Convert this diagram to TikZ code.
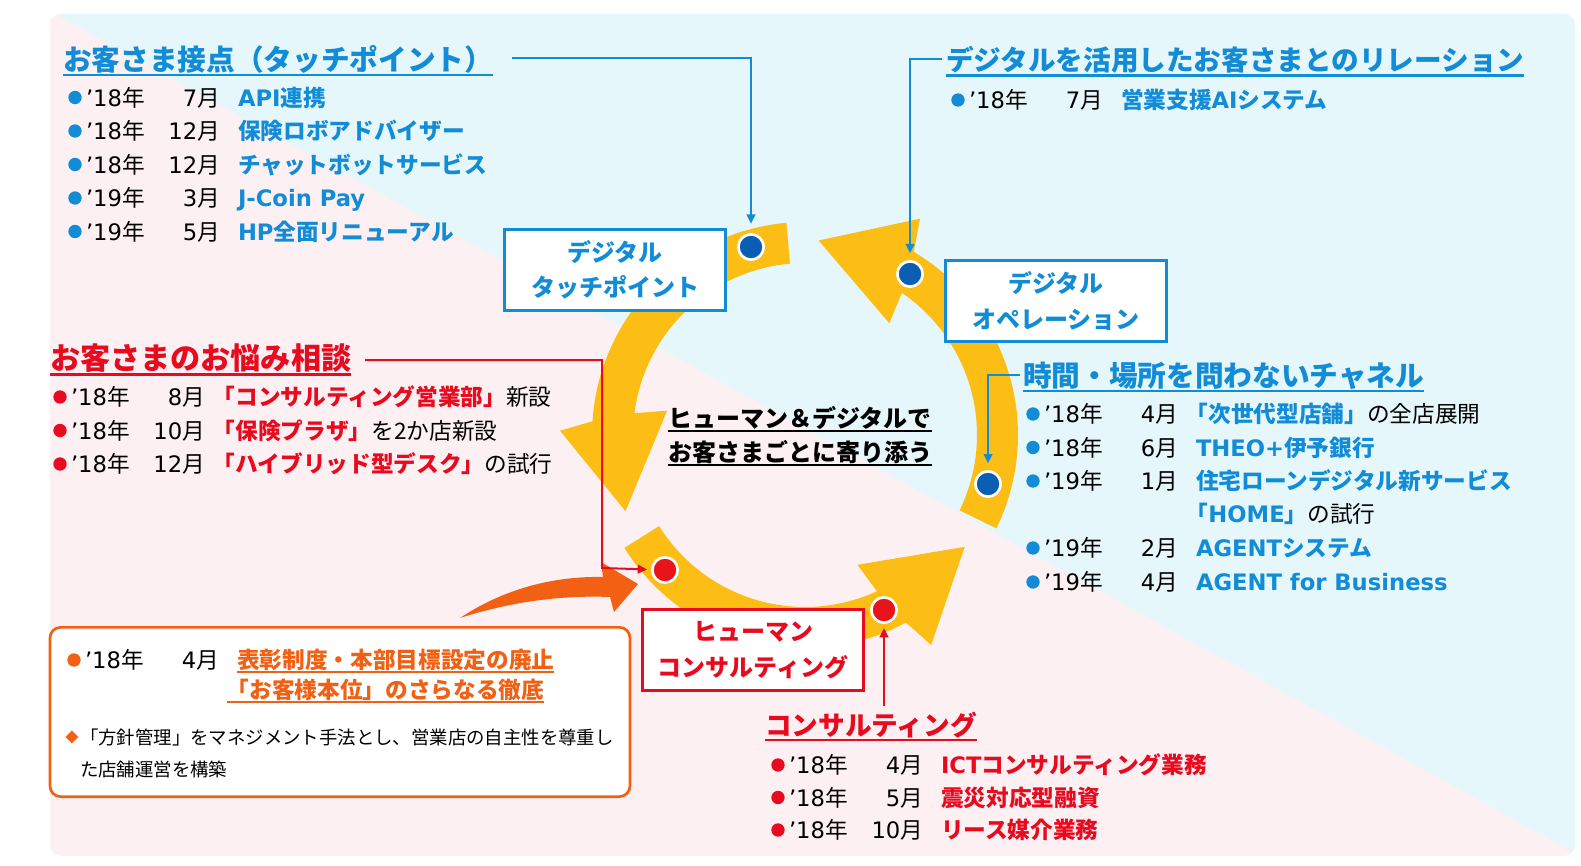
\documentclass[tikz,border=0pt]{standalone}
\usepackage{fontspec}
\setmainfont{Noto Sans CJK JP}
\newfontfamily\lat{Liberation Sans}
\newfontfamily\dv{DejaVu Sans}
\usetikzlibrary{arrows.meta}
\definecolor{bgblue}{RGB}{230,247,252}
\definecolor{bgpink}{RGB}{253,240,243}
\definecolor{tblue}{RGB}{18,140,215}
\definecolor{tred}{RGB}{232,10,30}
\definecolor{torange}{RGB}{242,96,20}
\definecolor{ringc}{RGB}{252,190,20}
\definecolor{dotblue}{RGB}{10,95,180}
\definecolor{dotred}{RGB}{232,20,25}
\newcommand\ulx[1]{\leavevmode\setbox0=\hbox{#1}\rlap{\rule[-0.2em]{\wd0}{0.08em}}\box0}
\newcommand\lb{\kern-0.45em}
\tikzset{
  every node/.style={inner sep=0pt, outer sep=0pt},
  bul/.style={circle, minimum size=10pt},
  datex/.style={font=\fontsize{17}{20}\selectfont, text=black},
  itemx/.style={font=\bfseries\fontsize{17}{20}\selectfont},
  headx/.style={font=\bfseries\fontsize{21}{25}\selectfont, anchor=base west},
  boxx/.style={draw, line width=2.2pt, fill=white, font=\bfseries\fontsize{18}{26.5}\selectfont, align=center, minimum width=166pt, minimum height=61pt},
  dotx/.style={circle, draw=white, line width=2pt, minimum size=19pt},
  conn/.style={line width=1.5pt, -{Triangle[length=7pt,width=6.5pt]}},
  smallx/.style={font=\fontsize{13.8}{16}\selectfont, text=black, anchor=base west},
}
\newcommand\rowx[5]{%
  \node[bul, fill=\bcol] (#1b) at (\bx,#2) {};
  \node[datex, anchor=base west] (#1y) at (\bx+11,#2+8.6) {{\dv ’#3}年};
  \node[datex, anchor=base east] (#1m) at (\bx+145,#2+8.6) {{\dv #4}月};
  \node[itemx, text=\icol, anchor=base west] (#1t) at (\bx+163,#2+8.6) {#5};
}
\begin{document}
\begin{tikzpicture}[x=0.75pt,y=-0.75pt]
\useasboundingbox (0,0) rectangle (1581,866);
\fill[white] (0,0) rectangle (1581,866);
% background panel
\begin{scope}
  \clip[rounded corners=8pt] (50,14) rectangle (1575,856);
  \fill[bgpink] (50,14) rectangle (1575,856);
  \fill[bgblue] (40,5.7) -- (1600,867) -- (1600,0) -- (40,0) -- cycle;
\end{scope}
% ring arrows
\fill[ringc] plot[domain=95:176.3,samples=40] ({805+213*cos(\x)},{435-213*sin(\x)})
  -- ({805+245*cos(179)},{435-245*sin(179)})
  -- ({805+195*cos(203)},{435-195*sin(203)})
  -- ({805+140*cos(170)},{435-140*sin(170)})
  -- ({805+172*cos(172.7)},{435-172*sin(172.7)})
  -- plot[domain=172.7:95,samples=40] ({805+172*cos(\x)},{435-172*sin(\x)}) -- cycle;
\fill[ringc] plot[domain=212:298.3,samples=40] ({805+213*cos(\x)},{435-213*sin(\x)})
  -- ({805+245*cos(301)},{435-245*sin(301)})
  -- ({805+195*cos(325)},{435-195*sin(325)})
  -- ({805+140*cos(292)},{435-140*sin(292)})
  -- ({805+172*cos(294.7)},{435-172*sin(294.7)})
  -- plot[domain=294.7:212,samples=40] ({805+172*cos(\x)},{435-172*sin(\x)}) -- cycle;
\fill[ringc] plot[domain=-26:59.3,samples=40] ({805+213*cos(\x)},{435-213*sin(\x)})
  -- ({805+245*cos(62)},{435-245*sin(62)})
  -- ({805+195*cos(86)},{435-195*sin(86)})
  -- ({805+140*cos(53)},{435-140*sin(53)})
  -- ({805+172*cos(55.7)},{435-172*sin(55.7)})
  -- plot[domain=55.7:-26,samples=40] ({805+172*cos(\x)},{435-172*sin(\x)}) -- cycle;
% orange curved arrow
\fill[torange] (460,618) .. controls (505,588) and (555,576) .. (603,577) -- (601,562) -- (638,584) -- (614,612) -- (610,597) .. controls (560,595) and (510,602) .. (460,618) -- cycle;
% boxes
\node[boxx, draw=tblue, text=tblue] (touch) at (615,270) {デジタル\\タッチポイント};
\node[boxx, draw=tblue, text=tblue] (oper) at (1056,301) {デジタル\\オペレーション};
\node[boxx, draw=tred, text=tred] (human) at (753,650) {ヒューマン\\コンサルティング};
\node[draw=torange, line width=2pt, fill=white, rounded corners=8pt, minimum width=435pt, minimum height=127pt] (obox) at (340,712) {};
% dots
\node[dotx, fill=dotblue] (dA) at (751,247) {};
\node[dotx, fill=dotblue] (dB) at (910,274) {};
\node[dotx, fill=dotblue] (dD) at (988,484) {};
\node[dotx, fill=dotred] (dC) at (665,570) {};
\node[dotx, fill=dotred] (dE) at (884,610) {};
% center text
\node[font=\bfseries\fontsize{18}{25.5}\selectfont, align=center] (ctr) at (800,436) {\ulx{ヒューマン＆デジタルで}\\\ulx{お客さまごとに寄り添う}};
% headings
\node[headx, text=tblue, font=\bfseries\fontsize{21.5}{25}\selectfont] (hA) at (63,70.6) {\ulx{お客さま接点（タッチポイント）}};
\node[headx, text=tblue, font=\bfseries\fontsize{20.7}{25}\selectfont] (hB) at (946,71) {\ulx{デジタルを活用したお客さまとのリレーション}};
\node[headx, text=tred, font=\bfseries\fontsize{22.6}{25}\selectfont] (hC) at (50,369.6) {\ulx{お客さまのお悩み相談}};
\node[headx, text=tblue, font=\bfseries\fontsize{21.5}{25}\selectfont] (hD) at (1023,386.6) {\ulx{時間・場所を問わないチャネル}};
\node[headx, text=tred, font=\bfseries\fontsize{20}{25}\selectfont] (hE) at (765,735.6) {\ulx{コンサルティング}};
% connectors
\coordinate (sA) at (512,58);
\coordinate (sB) at (942,59);
\coordinate (sD) at (1020,375);
\coordinate (sC) at (365,360);
\coordinate (kC) at (602,568);
\coordinate (sE) at (884,706);
\draw[conn, draw=tblue, shorten >=8pt] (sA) -| (dA.north);
\draw[conn, draw=tblue, shorten >=6pt] (sB) -| (dB.north);
\draw[conn, draw=tblue, shorten >=6pt] (sD) -| (dD.north);
\draw[conn, draw=tred, shorten >=4pt] (sC) -| (kC) -- (dC);
\draw[conn, draw=tred, shorten >=4pt] (sE) -- (dE);
% block A
\def\bx{75}\def\icol{tblue}\def\bcol{tblue}
\rowx{a1}{97.5}{18}{7}{{\dv API}連携}
\rowx{a2}{131}{18}{12}{保険ロボアドバイザー}
\rowx{a3}{164.5}{18}{12}{チャットボットサービス}
\rowx{a4}{198}{19}{3}{{\dv J-Coin Pay}}
\rowx{a5}{231.5}{19}{5}{{\dv HP}全面リニューアル}
% block B
\def\bx{958}
\rowx{b1}{100}{18}{7}{営業支援{\dv AI}システム}
% block C
\def\bx{60}\def\icol{tred}\def\bcol{tred}
\rowx{c1}{397}{18}{8}{\lb「コンサルティング営業部」{\mdseries\color{black}新設}}
\rowx{c2}{430.5}{18}{10}{\lb「保険プラザ」{\mdseries\color{black}を2か店新設}}
\rowx{c3}{464}{18}{12}{\lb「ハイブリッド型デスク」{\mdseries\color{black}の試行}}
% block D
\def\bx{1033}\def\icol{tblue}\def\bcol{tblue}
\rowx{d1}{414}{18}{4}{\lb「次世代型店舗」{\mdseries\color{black}の全店展開}}
\rowx{d2}{447.5}{18}{6}{{\dv THEO+}伊予銀行}
\rowx{d3}{481}{19}{1}{住宅ローンデジタル新サービス}
\node[itemx, text=tblue, anchor=base west] (d3c) at (1196,522.6) {\lb「{\dv HOME}」{\mdseries\color{black}の試行}};
\rowx{d4}{548}{19}{2}{{\dv AGENT}システム}
\rowx{d5}{582}{19}{4}{{\dv AGENT for Business}}
% block E
\def\bx{778}\def\icol{tred}\def\bcol{tred}
\rowx{e1}{765}{18}{4}{{\dv ICT}コンサルティング業務}
\rowx{e2}{797.5}{18}{5}{震災対応型融資}
\rowx{e3}{830}{18}{10}{リース媒介業務}
% orange box content
\def\bx{74}\def\icol{torange}\def\bcol{torange}
\rowx{o1}{660}{18}{4}{\ulx{表彰制度・本部目標設定の廃止}}
\node[itemx, text=torange, anchor=base west] (o2) at (237,698.6) {\lb\ulx{「お客様本位」のさらなる徹底}};
\node[text=torange, font=\fontsize{10}{12}\selectfont] (o3d) at (72,737) {◆};
\node[smallx] (o3) at (80,744) {「方針管理」をマネジメント手法とし、営業店の自主性を尊重し};
\node[smallx] (o4) at (80,776) {た店舗運営を構築};
\end{tikzpicture}
\end{document}
